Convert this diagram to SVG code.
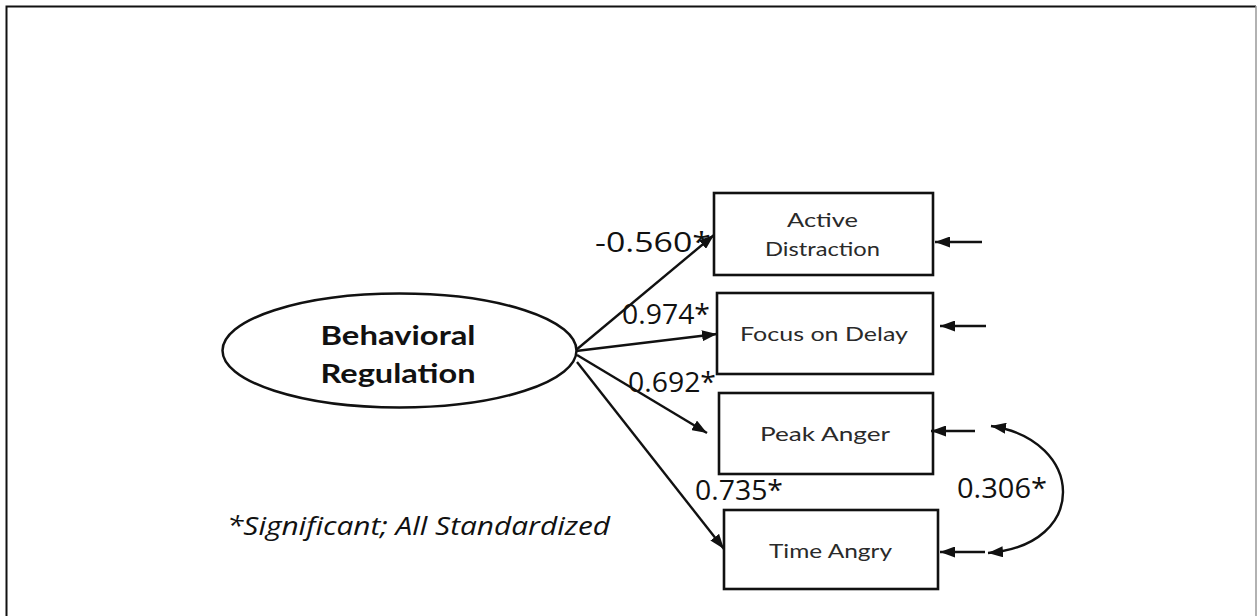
<svg xmlns="http://www.w3.org/2000/svg" width="1257" height="616" viewBox="0 0 1257 616">
  <style>
    .box { fill: #fff; stroke: #111; stroke-width: 2.6; }
    .node-text { font-family: Lato, "Liberation Sans", sans-serif; font-size: 20px; fill: #2a2a2a; text-anchor: middle; }
    .latent-text { font-family: Lato, "Liberation Sans", sans-serif; font-size: 27px; font-weight: bold; fill: #111; text-anchor: middle; }
    .coef { font-family: "Open Sans", "Liberation Sans", sans-serif; font-size: 27px; fill: #111; }
    .note { font-family: "Open Sans", "Liberation Sans", sans-serif; font-size: 26px; font-style: italic; fill: #111; }
    .path { fill: none; stroke: #111; stroke-width: 2.4; }
  </style>
  <defs>
    <marker id="head" viewBox="0 0 15 11" refX="15" refY="5.5" markerWidth="15" markerHeight="11" markerUnits="userSpaceOnUse" orient="auto-start-reverse">
      <path d="M0,0 L15,5.5 L0,11 Z" fill="#111"/>
    </marker>
  </defs>

  <rect x="0" y="0" width="1257" height="616" fill="#fff"/>
  <!-- outer frame -->
  <path d="M6.5,616 L6.5,6.5 L1256,6.5" fill="none" stroke="#111" stroke-width="2"/>
  <line x1="1256" y1="6" x2="1256" y2="616" stroke="#999" stroke-width="1.5"/>

  <g id="behavioral-regulation">
    <ellipse cx="399.5" cy="350.5" rx="177" ry="57" fill="#fff" stroke="#111" stroke-width="2.5"/>
    <text class="latent-text" x="398" y="345" textLength="155" lengthAdjust="spacingAndGlyphs">Behavioral</text>
    <text class="latent-text" x="398" y="383" textLength="155" lengthAdjust="spacingAndGlyphs">Regulation</text>
  </g>

  <g id="active-distraction">
    <rect class="box" x="714" y="193" width="219" height="82"/>
    <text class="node-text" x="822.5" y="227" textLength="71" lengthAdjust="spacingAndGlyphs">Active</text>
    <text class="node-text" x="822.5" y="256" textLength="115" lengthAdjust="spacingAndGlyphs">Distraction</text>
  </g>

  <g id="focus-on-delay">
    <rect class="box" x="717" y="293" width="216" height="81"/>
    <text class="node-text" x="824" y="341" textLength="168" lengthAdjust="spacingAndGlyphs">Focus on Delay</text>
  </g>

  <g id="peak-anger">
    <rect class="box" x="719" y="393" width="214" height="81"/>
    <text class="node-text" x="825" y="441" textLength="130" lengthAdjust="spacingAndGlyphs">Peak Anger</text>
  </g>

  <g id="time-angry">
    <rect class="box" x="724" y="510" width="214" height="79"/>
    <text class="node-text" x="830.5" y="558" textLength="123" lengthAdjust="spacingAndGlyphs">Time Angry</text>
  </g>

  <g id="connectors">
    <!-- loadings -->
    <line class="path" x1="576" y1="350" x2="714" y2="235" marker-end="url(#head)"/>
    <line class="path" x1="576" y1="351" x2="717" y2="334" marker-end="url(#head)"/>
    <line class="path" x1="577" y1="355" x2="707" y2="433" marker-end="url(#head)"/>
    <line class="path" x1="577" y1="362" x2="724" y2="549" marker-end="url(#head)"/>
    <!-- residual terms -->
    <line class="path" x1="982" y1="242" x2="935" y2="242" marker-end="url(#head)"/>
    <line class="path" x1="986" y1="326" x2="940" y2="326" marker-end="url(#head)"/>
    <line class="path" x1="975" y1="431" x2="931" y2="431" marker-end="url(#head)"/>
    <line class="path" x1="985" y1="552" x2="940" y2="552" marker-end="url(#head)"/>
    <!-- residual covariance -->
    <path class="path" d="M991,426 C1085,440 1090,545 988,553" marker-start="url(#head)" marker-end="url(#head)"/>
  </g>

  <g id="labels">
    <text class="coef" x="595" y="252" textLength="116" lengthAdjust="spacingAndGlyphs">-0.560*</text>
    <text class="coef" x="622" y="324" textLength="88" lengthAdjust="spacingAndGlyphs">0.974*</text>
    <text class="coef" x="628" y="392" textLength="88" lengthAdjust="spacingAndGlyphs">0.692*</text>
    <text class="coef" x="695" y="500" textLength="88" lengthAdjust="spacingAndGlyphs">0.735*</text>
    <text class="coef" x="957" y="498" textLength="90" lengthAdjust="spacingAndGlyphs">0.306*</text>
    <text class="note" x="227" y="535" textLength="383" lengthAdjust="spacingAndGlyphs">*Significant; All Standardized</text>
  </g>
</svg>
